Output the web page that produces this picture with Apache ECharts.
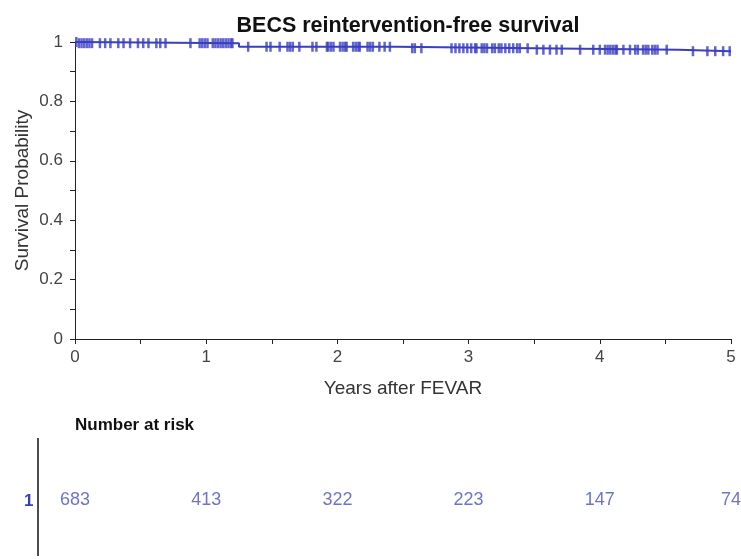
<!DOCTYPE html>
<html>
<head>
<meta charset="utf-8">
<script src="https://cdn.jsdelivr.net/npm/echarts@6/dist/echarts.min.js"></script>
<style>html,body{margin:0;padding:0;background:#fff}#c{width:741px;height:559px}</style>
</head>
<body>
<div id="c"></div>
<script>
// Kaplan-Meier step points: [years, survival]
var stepTimes = [0, 0.02, 1.25, 2.45, 3.5, 4.6, 5];
var stepSurv  = [1, 0.996, 0.984, 0.979, 0.974, 0.969, 0.969];
// censoring times (years)
var censorTimes = [0.01,0.03,0.05,0.07,0.09,0.11,0.13,
  0.19,0.23,0.27,0.33,0.37,0.42,0.48,0.52,0.56,0.62,0.65,0.69,
  0.88,0.95,0.97,0.99,1.01,1.05,1.07,1.09,1.11,1.13,1.15,1.17,1.19,1.2,
  1.32,1.46,1.49,1.56,1.62,1.64,1.66,1.71,1.81,1.84,1.92,1.93,1.95,1.97,
  2.02,2.04,2.06,2.07,2.12,2.14,2.16,2.17,2.23,2.25,2.27,2.32,2.36,2.40,
  2.57,2.59,2.64,2.87,2.90,2.93,2.96,2.99,3.02,3.05,3.06,3.10,3.12,3.14,
  3.18,3.20,3.23,3.25,3.28,3.31,3.34,3.37,3.39,3.45,3.52,3.57,3.62,3.67,3.71,
  3.85,3.95,4.00,4.04,4.06,4.08,4.10,4.12,4.13,4.18,4.23,4.27,4.29,
  4.33,4.35,4.37,4.40,4.42,4.44,4.51,4.71,4.82,4.88,4.94,4.99];
// number at risk
var riskTimes = [0, 1, 2, 3, 4, 5];
var riskCounts = [683, 413, 322, 223, 147, 74];
var xTicks = [0, 1, 2, 3, 4, 5];
var yTicks = [0, 0.2, 0.4, 0.6, 0.8, 1];

var blue = '#3a3fc0';
var stepData = stepTimes.map(function(t, i){ return [t, stepSurv[i]]; });
function survAt(t){
  var s = stepSurv[0];
  for (var i = 0; i < stepTimes.length; i++) { if (stepTimes[i] <= t) s = stepSurv[i]; }
  return s;
}
var censorData = censorTimes.map(function(t){ return [t, survAt(t)]; });
var riskData = riskTimes.map(function(t, i){ return [t, 0, riskCounts[i]]; });

var chart = echarts.init(document.getElementById('c'), null, {renderer: 'canvas'});
var FONT = 'Liberation Sans, Arial, sans-serif';
var axisTxt = {color: '#444', fontSize: 17, fontFamily: FONT};
chart.setOption({
  animation: false,
  backgroundColor: '#fff',
  title: [{
    text: 'BECS reintervention-free survival',
    left: 403, top: 10, textAlign: 'center',
    textStyle: {fontSize: 21.5, fontWeight: 'bold', color: '#111', fontFamily: FONT}
  },{
    text: 'Number at risk',
    left: 70, top: 412,
    textStyle: {fontSize: 17, fontWeight: 'bold', color: '#111', fontFamily: 'Liberation Sans Narrow, Liberation Sans, Arial, sans-serif'}
  },{
    text: '1',
    left: 19, top: 488,
    textStyle: {fontSize: 17, fontWeight: 'bold', color: '#3a3fb0', fontFamily: FONT}
  }],
  graphic: [{
    type: 'line', shape: {x1: 38, y1: 438, x2: 38, y2: 556},
    style: {stroke: '#111', lineWidth: 1.5}
  }],
  grid: [
    {left: 75, right: 10, top: 42, height: 297},
    {left: 75, right: 10, top: 490, height: 20}
  ],
  xAxis: [{
    gridIndex: 0, type: 'value', min: 0, max: 5, interval: 1,
    name: 'Years after FEVAR', nameLocation: 'middle', nameGap: 40,
    nameMoveOverlap: false,
    nameTextStyle: {color: '#333', fontSize: 19, fontFamily: FONT},
    axisLine: {lineStyle: {color: '#222', width: 1}},
    axisTick: {inside: false, length: 5, lineStyle: {color: '#222'}},
    minorTick: {show: true, splitNumber: 2, length: 5, lineStyle: {color: '#222'}},
    axisLabel: Object.assign({margin: 10}, axisTxt),
    splitLine: {show: false}
  },{
    gridIndex: 1, type: 'value', min: 0, max: 5, show: false
  }],
  yAxis: [{
    gridIndex: 0, type: 'value', min: 0, max: 1, interval: 0.2,
    name: 'Survival Probability', nameLocation: 'middle', nameGap: 43,
    nameMoveOverlap: false,
    nameTextStyle: {color: '#333', fontSize: 19, fontFamily: FONT},
    axisLine: {show: true, lineStyle: {color: '#222', width: 1}},
    axisTick: {show: true, inside: false, length: 5, lineStyle: {color: '#222'}},
    minorTick: {show: true, splitNumber: 2, length: 5, lineStyle: {color: '#222'}},
    axisLabel: Object.assign({margin: 12, formatter: function(v){ return String(+v.toFixed(1)); }}, axisTxt),
    splitLine: {show: false}
  },{
    gridIndex: 1, type: 'value', min: -1, max: 1, show: false
  }],
  series: [{
    type: 'line', xAxisIndex: 0, yAxisIndex: 0, step: 'end',
    data: stepData, showSymbol: false, symbol: 'none',
    lineStyle: {color: blue, width: 2}, z: 3
  },{
    type: 'scatter', xAxisIndex: 0, yAxisIndex: 0,
    data: censorData, symbol: 'rect', symbolSize: [2.5, 10],
    itemStyle: {color: blue}, z: 4
  },{
    type: 'scatter', xAxisIndex: 1, yAxisIndex: 1,
    data: riskData, symbolSize: 0,
    label: {show: true, position: 'inside', formatter: function(p){ return p.value[2]; },
      color: '#4a50bb', fontSize: 18, fontFamily: FONT}
  }]
});
</script>
</body>
</html>
